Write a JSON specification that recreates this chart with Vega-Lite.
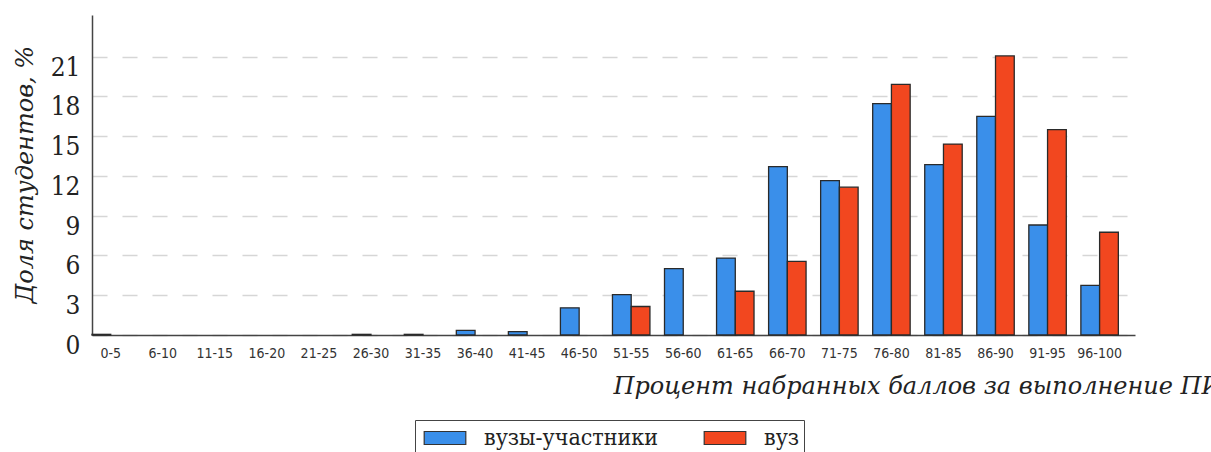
{
  "$schema": "https://vega.github.io/schema/vega-lite/v6.json",
  "width": 1043,
  "height": 320,
  "autosize": {"type": "none"},
  "padding": {"left": 92, "top": 15, "right": 76, "bottom": 117},
  "background": "white",
  "config": {"view": {"stroke": null}},
  "data": {
    "values": [
      {"range": "0-5", "series": "вузы-участники", "value": 0.05},
      {"range": "26-30", "series": "вузы-участники", "value": 0.05},
      {"range": "31-35", "series": "вузы-участники", "value": 0.05},
      {"range": "36-40", "series": "вузы-участники", "value": 0.35},
      {"range": "41-45", "series": "вузы-участники", "value": 0.25},
      {"range": "46-50", "series": "вузы-участники", "value": 2.05},
      {"range": "51-55", "series": "вузы-участники", "value": 3.05},
      {"range": "51-55", "series": "вуз", "value": 2.15},
      {"range": "56-60", "series": "вузы-участники", "value": 5.0},
      {"range": "61-65", "series": "вузы-участники", "value": 5.8},
      {"range": "61-65", "series": "вуз", "value": 3.3},
      {"range": "66-70", "series": "вузы-участники", "value": 12.7},
      {"range": "66-70", "series": "вуз", "value": 5.55},
      {"range": "71-75", "series": "вузы-участники", "value": 11.65},
      {"range": "71-75", "series": "вуз", "value": 11.15},
      {"range": "76-80", "series": "вузы-участники", "value": 17.45},
      {"range": "76-80", "series": "вуз", "value": 18.9},
      {"range": "81-85", "series": "вузы-участники", "value": 12.85},
      {"range": "81-85", "series": "вуз", "value": 14.4},
      {"range": "86-90", "series": "вузы-участники", "value": 16.5},
      {"range": "86-90", "series": "вуз", "value": 21.05},
      {"range": "91-95", "series": "вузы-участники", "value": 8.3},
      {"range": "91-95", "series": "вуз", "value": 15.5},
      {"range": "96-100", "series": "вузы-участники", "value": 3.75},
      {"range": "96-100", "series": "вуз", "value": 7.75}
    ]
  },
  "mark": {"type": "bar", "stroke": "#2a2a2a", "strokeWidth": 1.3},
  "encoding": {
    "x": {
      "field": "range",
      "type": "nominal",
      "scale": {
        "domain": ["0-5", "6-10", "11-15", "16-20", "21-25", "26-30", "31-35", "36-40", "41-45", "46-50", "51-55", "56-60", "61-65", "66-70", "71-75", "76-80", "81-85", "86-90", "91-95", "96-100"],
        "paddingInner": 0.28,
        "paddingOuter": 0.16,
        "align": 0
      },
      "axis": {
        "domainColor": "#444",
        "domainWidth": 1.5,
        "ticks": false,
        "grid": false,
        "labelAngle": 0,
        "labelFont": "DejaVu Sans Condensed",
        "labelFontSize": 14,
        "labelColor": "#333",
        "labelPadding": 11,
        "title": "Процент набранных баллов за выполнение ПИМ",
        "titleFont": "DejaVu Serif",
        "titleFontStyle": "italic",
        "titleFontWeight": "normal",
        "titleFontSize": 24,
        "titleColor": "#222",
        "titleAlign": "left",
        "titleBaseline": "alphabetic",
        "titleAnchor": "start",
        "titleX": 521,
        "titleY": 58
      }
    },
    "xOffset": {
      "field": "series",
      "type": "nominal",
      "scale": {"domain": ["вузы-участники", "вуз"], "paddingInner": 0, "paddingOuter": 0}
    },
    "y": {
      "field": "value",
      "type": "quantitative",
      "scale": {"domain": [0, 24.14], "nice": false},
      "axis": {
        "values": [0, 3, 6, 9, 12, 15, 18, 21],
        "domainColor": "#444",
        "domainWidth": 1.5,
        "ticks": false,
        "grid": true,
        "gridColor": "#d6d6d6",
        "gridDash": [15, 15],
        "gridWidth": 1.5,
        "labelFont": "DejaVu Serif Condensed",
        "labelFontSize": 26,
        "labelColor": "#222",
        "labelBaseline": "alphabetic",
        "labelOffset": 18.5,
        "labelPadding": 12,
        "title": "Доля студентов, %",
        "titleFont": "DejaVu Serif",
        "titleFontStyle": "italic",
        "titleFontWeight": "normal",
        "titleFontSize": 24,
        "titleColor": "#222",
        "titleAngle": -90,
        "titleAlign": "center",
        "titleBaseline": "alphabetic",
        "titleX": -60,
        "titleY": 159
      }
    },
    "color": {
      "field": "series",
      "type": "nominal",
      "scale": {"domain": ["вузы-участники", "вуз"], "range": ["#3a8fea", "#f2471f"]},
      "legend": {
        "orient": "none",
        "legendX": 323,
        "legendY": 405,
        "direction": "horizontal",
        "columns": 2,
        "title": null,
        "strokeColor": "#444",
        "fillColor": "white",
        "padding": 4,
        "symbolType": "M-1.6,-0.5H1.6V0.5H-1.6Z",
        "symbolSize": 676,
        "symbolStrokeColor": "#333",
        "symbolStrokeWidth": 1.2,
        "symbolOpacity": 1,
        "symbolOffset": 12,
        "labelFont": "DejaVu Serif Condensed",
        "labelFontSize": 23,
        "labelLimit": 500,
        "labelColor": "#222",
        "labelOffset": 25,
        "labelExpr": "datum.label == 'вуз' ? 'вуз  ' : datum.label",
        "columnPadding": 40
      }
    }
  }
}
